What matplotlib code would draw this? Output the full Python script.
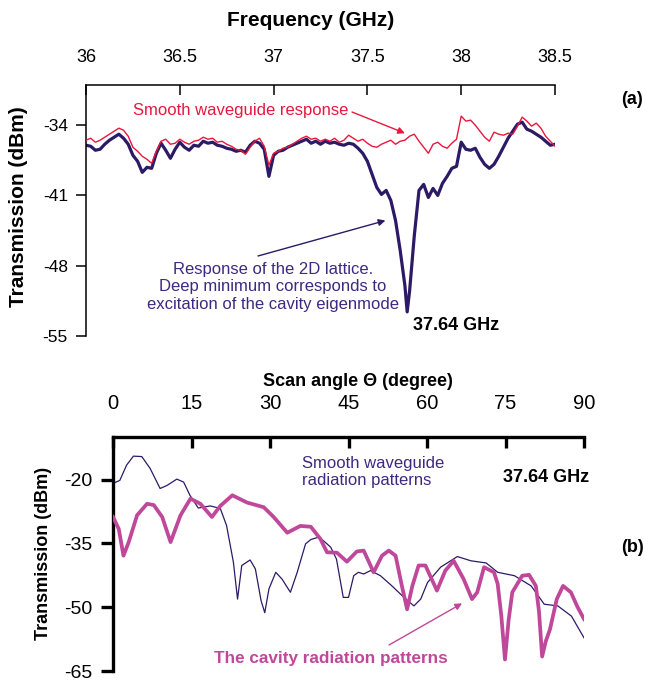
import numpy as np
import matplotlib.pyplot as plt

plt.rcParams['font.family'] = ['Liberation Sans', 'DejaVu Sans']
plt.rcParams['axes.unicode_minus'] = False

# ---- panel (a): transmission vs frequency ----
freq = [36.000, 36.025, 36.050, 36.075, 36.100, 36.125, 36.150, 36.175, 36.200, 36.225,
        36.250, 36.275, 36.300, 36.325, 36.350, 36.375, 36.400, 36.425, 36.450, 36.475,
        36.500, 36.525, 36.550, 36.575, 36.600, 36.625, 36.650, 36.675, 36.700, 36.725,
        36.750, 36.775, 36.800, 36.825, 36.850, 36.875, 36.900, 36.925, 36.950, 36.975,
        37.000, 37.025, 37.050, 37.075, 37.100, 37.125, 37.150, 37.175, 37.200, 37.225,
        37.250, 37.275, 37.300, 37.325, 37.350, 37.375, 37.400, 37.425, 37.450, 37.475,
        37.500, 37.525, 37.550, 37.575, 37.600, 37.625, 37.650, 37.675, 37.700, 37.712, 37.725,
        37.750, 37.775, 37.800, 37.825, 37.850, 37.875, 37.900, 37.925, 37.950, 37.975,
        38.000, 38.025, 38.050, 38.075, 38.100, 38.125, 38.150, 38.175, 38.200, 38.225,
        38.250, 38.275, 38.300, 38.325, 38.350, 38.375, 38.400, 38.425, 38.450, 38.475,
        38.500]

smooth_resp = [-35.5, -35.3, -35.7, -35.5, -35.2, -34.9, -34.6, -34.3, -34.5, -35.1,
               -36.2, -36.6, -37.1, -37.4, -37.8, -36.6, -35.6, -35.4, -35.9, -35.8,
               -35.4, -35.7, -35.9, -35.6, -35.5, -35.2, -35.4, -35.3, -35.7, -35.6,
               -35.9, -36.1, -36.4, -36.5, -36.9, -36.2, -35.6, -35.3, -36.1, -38.0,
               -36.8, -36.6, -36.3, -36.2, -35.9, -35.6, -35.3, -35.1, -35.4, -35.3,
               -35.6, -35.4, -35.6, -35.3, -35.7, -35.5, -35.0, -35.3, -35.6, -35.4,
               -35.8, -36.1, -36.2, -35.9, -35.7, -35.5, -35.9, -35.6, -35.5, -35.3, -35.1,
               -34.9, -35.6, -36.2, -36.8, -35.9, -35.7, -36.1, -36.3, -35.8, -35.4,
               -33.1, -33.6, -33.5, -34.0, -34.6, -35.2, -35.6, -34.7, -34.9, -35.0,
               -34.8, -34.9, -34.1, -33.2, -33.6, -34.1, -33.8, -34.3, -35.1, -35.6,
               -36.1]

lattice_resp = [-36.0, -36.1, -36.5, -36.4, -35.9, -35.5, -35.2, -34.9, -35.3, -35.9,
                -37.0, -37.6, -38.7, -38.2, -38.3, -36.8, -35.8, -36.5, -37.3, -36.4,
                -35.7, -36.2, -36.5, -36.0, -36.1, -35.6, -35.8, -35.7, -36.0, -36.1,
                -36.3, -36.4, -36.6, -36.5, -36.7, -36.0, -35.6, -35.8, -36.4, -39.1,
                -37.0, -36.6, -36.5, -36.2, -36.0, -35.8, -35.6, -35.4, -35.8, -35.6,
                -35.9, -35.6, -35.8, -35.7, -35.9, -36.0, -35.8, -35.9, -36.3, -36.8,
                -37.6, -38.9, -40.2, -40.9, -40.5, -41.5, -43.5, -46.5, -50.0, -52.6, -50.5,
                -45.0, -40.5, -39.9, -41.2, -40.3, -41.0, -39.8, -39.1, -38.3, -38.1,
                -35.7, -36.4, -36.5, -36.3, -37.2, -37.9, -38.3, -37.9, -37.1, -36.2,
                -35.3, -34.6, -33.9, -33.7, -34.4, -34.6, -34.9, -35.2, -35.6, -36.0,
                -35.9]

freq_ticks = [36, 36.5, 37, 37.5, 38, 38.5]
freq_labels = ['36', '36.5', '37', '37.5', '38', '38.5']
trans_ticks_a = [-34, -41, -48, -55]

# ---- panel (b): radiation patterns vs scan angle ----
angle_wg = [0, 1.3, 2.6, 3.9, 5.5, 7.1, 9.0, 10.3, 12.2, 13.5, 14.7, 16.3, 18.6, 20.5,
            21.7, 23.0, 23.8, 24.6, 26.2, 27.2, 28.3, 29.0, 29.8, 31.1, 32.3, 33.9,
            35.2, 36.8, 37.8, 39.4, 41.6, 42.7, 44.0, 45.0, 46.0, 46.9, 47.9, 49.2,
            51.1, 53.3, 55.6, 57.5, 58.8, 60.1, 62.6, 65.8, 68.4, 71.3, 73.5, 76.7,
            79.9, 82.4, 85.0, 87.6, 90.0]
wg_pattern = [-20.9, -20.2, -16.6, -14.5, -14.6, -17.4, -22.1, -21.4, -19.9, -20.6,
              -23.7, -26.7, -26.2, -26.8, -30.8, -39.4, -48.1, -40.2, -38.9, -41.0,
              -48.5, -51.3, -45.7, -41.8, -43.4, -46.5, -41.8, -35.1, -34.1, -33.5,
              -35.9, -38.7, -47.7, -47.7, -42.6, -41.8, -42.2, -41.4, -42.6, -45.0,
              -47.7, -49.7, -48.1, -44.2, -40.6, -38.1, -39.1, -39.6, -41.8, -42.6,
              -45.0, -49.3, -49.7, -52.1, -57.2]

angle_cav = [0, 1.1, 2.0, 3.0, 4.6, 6.5, 7.8, 9.4, 11.0, 12.9, 14.8, 16.7, 18.9, 20.5,
             22.8, 25.6, 28.8, 30.7, 33.3, 35.8, 37.8, 39.6, 40.9, 42.8, 44.7, 46.6,
             47.9, 49.8, 51.4, 52.7, 54.0, 55.2, 56.2, 57.2, 58.4, 59.7, 61.9, 63.5,
             65.1, 67.0, 68.6, 69.6, 70.9, 72.8, 73.5, 74.2, 74.9, 75.6, 76.3, 78.2,
             79.5, 80.8, 81.4, 82.0, 82.7, 83.5, 84.8, 86.0, 87.5, 88.7, 90.0]
cav_pattern = [-28.8, -31.6, -37.9, -34.7, -28.4, -25.7, -26.0, -28.8, -34.7, -28.4,
               -24.5, -25.7, -28.8, -26.2, -23.7, -25.4, -26.5, -28.8, -32.5, -30.9,
               -31.1, -33.9, -37.1, -37.2, -39.3, -36.9, -36.7, -41.8, -37.9, -36.7,
               -37.9, -45.0, -50.5, -45.0, -40.2, -40.2, -46.1, -41.4, -39.1, -43.4,
               -48.1, -46.5, -40.6, -41.8, -44.5, -52.0, -62.3, -53.0, -46.5, -42.6,
               -42.4, -45.0, -51.0, -61.6, -58.0, -55.2, -48.1, -45.0, -46.5, -49.8,
               -52.8]

angle_ticks = [0, 15, 30, 45, 60, 75, 90]
trans_ticks_b = [-20, -35, -50, -65]

RED = '#e8173d'
NAVY = '#2d1a66'
PURPLE_TXT = '#3d2a80'
MAGENTA = '#c0489a'

W, H = 650, 684
fig = plt.figure(figsize=(W / 100, H / 100), dpi=100)


def fp(x, y):
    # pixel position (from top-left) -> figure fraction
    return (x / W, 1 - y / H)


# ---------------- panel (a) ----------------
ax1 = fig.add_axes([86 / W, 1 - 336 / H, (555 - 86) / W, (336 - 85) / H])
ax1.plot(freq, lattice_resp, color=NAVY, lw=2.3, zorder=2)
ax1.plot(freq, smooth_resp, color=RED, lw=1.0, zorder=3)
ax1.set_xlim(36, 38.5)
ax1.set_ylim(-55, -30)
ax1.xaxis.tick_top()
ax1.set_xticks(freq_ticks)
ax1.set_xticklabels(freq_labels)
ax1.set_yticks(trans_ticks_a)
ax1.set_yticklabels([str(t) for t in trans_ticks_a])
for s in ['bottom', 'right']:
    ax1.spines[s].set_visible(False)
for s in ['top', 'left']:
    ax1.spines[s].set_linewidth(1.1)
ax1.tick_params(axis='x', direction='in', length=7, width=1.1, pad=14, labelsize=13)
ax1.tick_params(axis='y', direction='out', length=7, width=1.1, pad=6, labelsize=12.5)

fig.text(*fp(311, 20), 'Frequency (GHz)', ha='center', va='center',
         fontsize=15, fontweight='bold')
fig.text(*fp(19, 207), 'Transmission (dBm)', ha='center', va='center',
         rotation=90, fontsize=15, fontweight='bold')
fig.text(*fp(632, 100), '(a)', ha='center', va='center', fontsize=13, fontweight='bold')

fig.text(*fp(133, 111), 'Smooth waveguide response', ha='left', va='center',
         fontsize=12, color=RED)
ax1.annotate('', xy=(37.70, -34.8), xycoords='data',
             xytext=fp(352, 112), textcoords='figure fraction',
             arrowprops=dict(arrowstyle='-|>', color=RED, lw=1.0,
                             mutation_scale=10, shrinkA=0, shrinkB=0))

fig.text(*fp(273, 287), 'Response of the 2D lattice.\nDeep minimum corresponds to\n'
         'excitation of the cavity eigenmode', ha='center', va='center',
         fontsize=12, color=PURPLE_TXT, linespacing=1.2)
ax1.annotate('', xy=(37.596, -43.5), xycoords='data',
             xytext=fp(258, 256), textcoords='figure fraction',
             arrowprops=dict(arrowstyle='-|>', color=NAVY, lw=1.0,
                             mutation_scale=10, shrinkA=0, shrinkB=0))
fig.text(*fp(456, 325), '37.64 GHz', ha='center', va='center',
         fontsize=13, fontweight='bold')

# ---------------- panel (b) ----------------
ax2 = fig.add_axes([113 / W, 1 - 671 / H, (584 - 113) / W, (671 - 437) / H])
ax2.plot(angle_wg, wg_pattern, color=NAVY, lw=0.9, zorder=2)
ax2.plot(angle_cav, cav_pattern, color=MAGENTA, lw=2.7, zorder=3)
ax2.set_xlim(0, 90)
ax2.set_ylim(-65, -10)
ax2.xaxis.tick_top()
ax2.set_xticks(angle_ticks)
ax2.set_yticks(trans_ticks_b)
for s in ['bottom', 'right']:
    ax2.spines[s].set_visible(False)
for s in ['top', 'left']:
    ax2.spines[s].set_linewidth(2.4)
ax2.tick_params(axis='x', direction='in', length=8, width=2.4, pad=17, labelsize=14.5)
ax2.tick_params(axis='y', direction='out', length=9, width=2.4, pad=6, labelsize=14)

fig.text(*fp(358, 382), 'Scan angle Θ (degree)', ha='center', va='center',
         fontsize=13, fontweight='bold')
fig.text(*fp(43, 553), 'Transmission (dBm)', ha='center', va='center',
         rotation=90, fontsize=13, fontweight='bold')
fig.text(*fp(632, 547), '(b)', ha='center', va='center', fontsize=13, fontweight='bold')

fig.text(*fp(302, 472), 'Smooth waveguide\nradiation patterns', ha='left', va='center',
         fontsize=12, color=PURPLE_TXT, linespacing=1.15)
fig.text(*fp(546, 478), '37.64 GHz', ha='center', va='center',
         fontsize=13, fontweight='bold')
fig.text(*fp(331, 658), 'The cavity radiation patterns', ha='center', va='center',
         fontsize=12.3, fontweight='bold', color=MAGENTA)
ax2.annotate('', xy=(66.7, -49.1), xycoords='data',
             xytext=fp(389, 645), textcoords='figure fraction',
             arrowprops=dict(arrowstyle='-|>', color=MAGENTA, lw=1.0,
                             mutation_scale=10, shrinkA=0, shrinkB=0))

fig.savefig('out.png', dpi=100)
